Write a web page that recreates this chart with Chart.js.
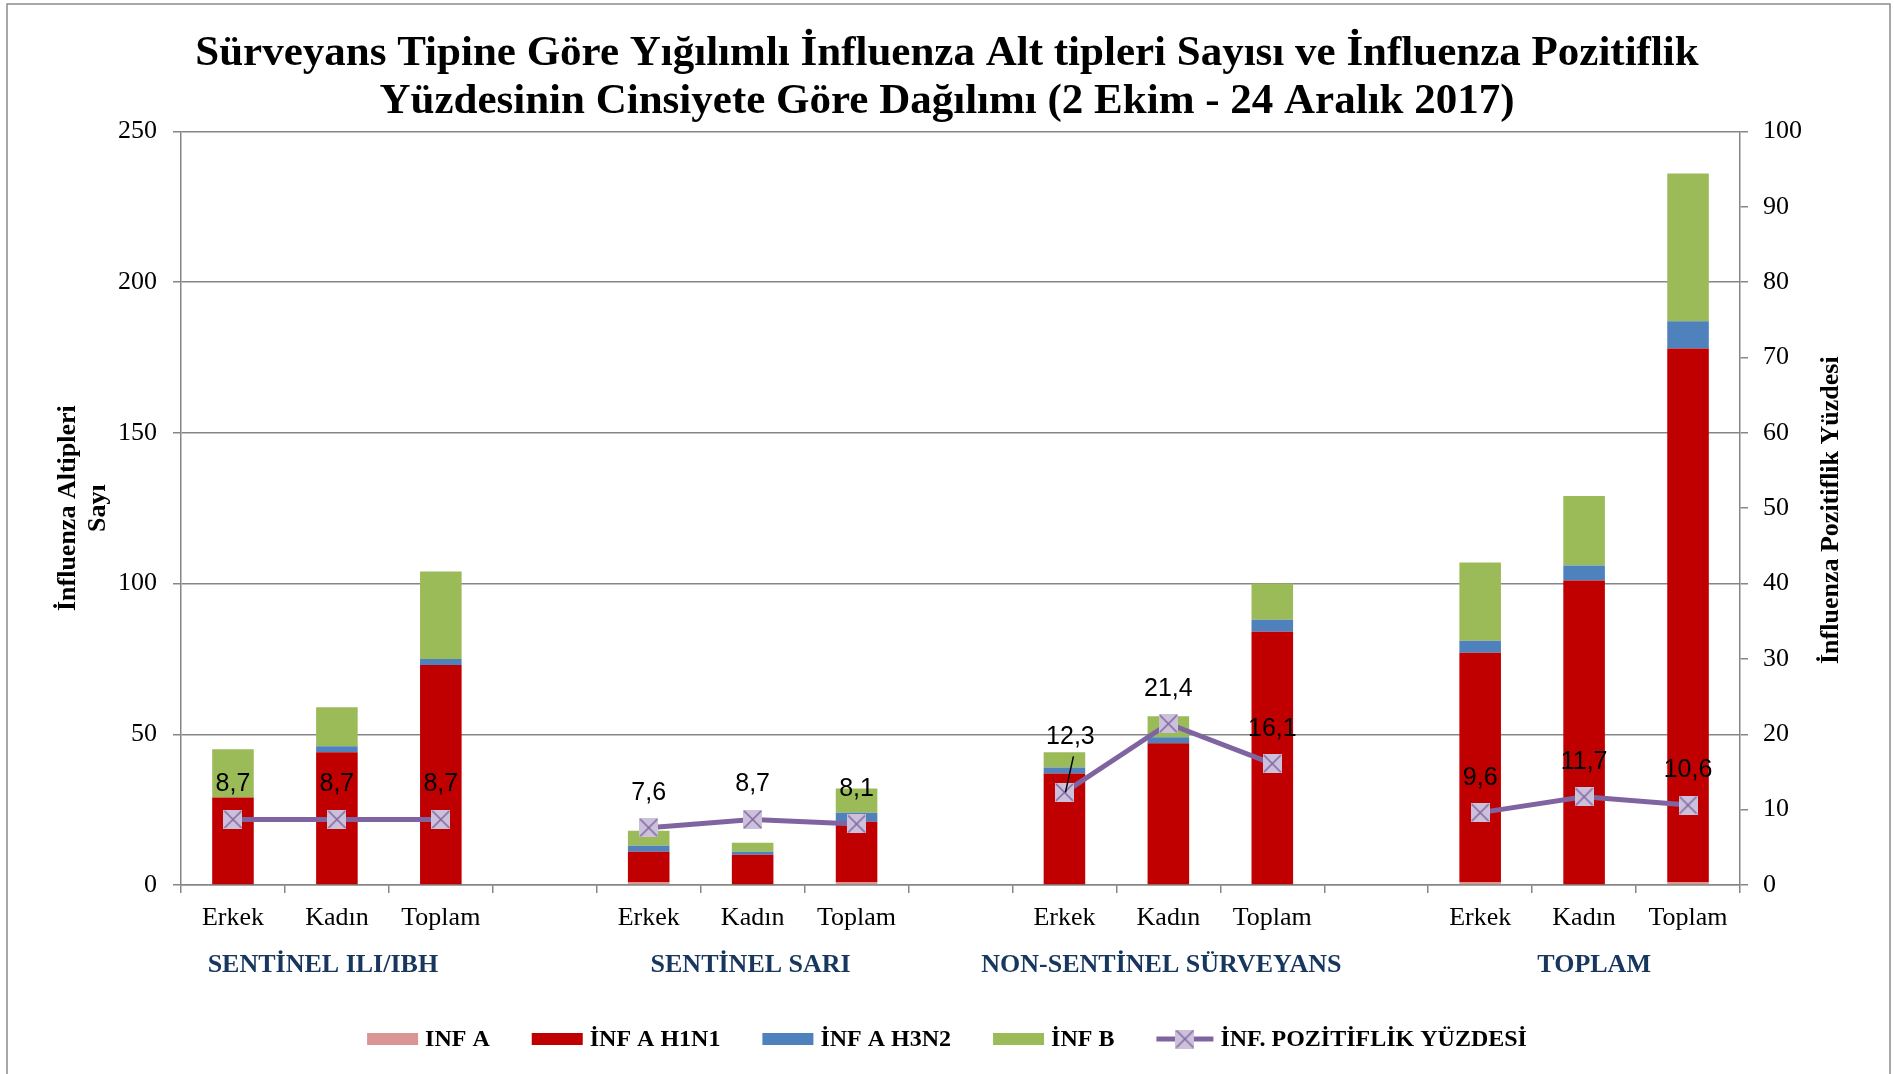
<!DOCTYPE html>
<html>
<head>
<meta charset="utf-8">
<script src="https://cdn.jsdelivr.net/npm/chart.js@4.4.1/dist/chart.umd.min.js"></script>
<style>
  html, body { margin: 0; padding: 0; background: #fff; }
  #wrap { width: 1894px; height: 1074px; }
</style>
</head>
<body>
<div id="wrap"><canvas id="canvas"></canvas></div>
<script>
// categories on the x axis (empty slots separate the groups)
var categories = ['Erkek', 'Kadın', 'Toplam', '', 'Erkek', 'Kadın', 'Toplam', '',
  'Erkek', 'Kadın', 'Toplam', '', 'Erkek', 'Kadın', 'Toplam'];
var groupNames = ['SENTİNEL ILI/IBH', 'SENTİNEL SARI', 'NON-SENTİNEL SÜRVEYANS', 'TOPLAM'];
var groupMiddle = [1, 5, 9, 13]; // category index under which each group name sits

// counts (left axis)
var infA = [0, 0, 0, null, 1, 0, 1, null, 0, 0, 0, null, 1, 0, 1];
var infH1N1 = [29, 44, 73, null, 10, 10, 20, null, 37, 47, 84, null, 76, 101, 177];
var infH3N2 = [0, 2, 2, null, 2, 1, 3, null, 2, 2, 4, null, 4, 5, 9];
var infB = [16, 13, 29, null, 5, 3, 8, null, 5, 7, 12, null, 26, 23, 49];
// positivity % (right axis)
var pozitiflik = [8.7, 8.7, 8.7, null, 7.6, 8.7, 8.1, null, 12.3, 21.4, 16.1, null, 9.6, 11.7, 10.6];

var titleLines = [
  'Sürveyans Tipine Göre Yığılımlı İnfluenza Alt tipleri Sayısı ve İnfluenza Pozitiflik',
  'Yüzdesinin Cinsiyete Göre Dağılımı (2 Ekim - 24 Aralık 2017)'
];

var GRID = '#868686';
var SERIF = '"Liberation Serif", "Times New Roman", serif';

// square marker with an x inside, like the excel one
function makeMarker(w, h) {
  var c = document.createElement('canvas');
  c.width = w; c.height = h;
  var g = c.getContext('2d');
  g.fillStyle = '#ccc1da';
  g.fillRect(0, 0, w, h);
  g.strokeStyle = '#8064a2';
  g.lineWidth = 1.5;
  g.beginPath();
  g.moveTo(1, 1); g.lineTo(w - 1, h - 1);
  g.moveTo(w - 1, 1); g.lineTo(1, h - 1);
  g.stroke();
  return c;
}
var marker = makeMarker(19, 19);

var frame = {
  id: 'frame',
  beforeDraw: function (chart) {
    var c = chart.ctx;
    c.save();
    c.fillStyle = '#fff';
    c.fillRect(0, 0, chart.width, chart.height);
    c.strokeStyle = '#8c8c8c';
    c.lineWidth = 1.5;
    c.beginPath();
    c.moveTo(7, chart.height + 2);
    c.lineTo(7, 4);
    c.lineTo(1890, 4);
    c.lineTo(1890, chart.height + 2);
    c.stroke();
    c.restore();
  }
};

var extras = {
  id: 'extras',
  afterDatasetsDraw: function (chart) {
    var c = chart.ctx;
    var area = chart.chartArea;
    var meta = chart.getDatasetMeta(4);
    c.save();
    // value labels over the line points
    c.font = '25px "Liberation Sans", Arial, sans-serif';
    c.fillStyle = '#000';
    c.textAlign = 'center';
    c.textBaseline = 'middle';
    meta.data.forEach(function (pt, i) {
      var v = pozitiflik[i];
      if (v === null) return;
      var txt = String(v).replace('.', ',');
      if (i === 8) {
        // this one is pushed up with a leader line
        c.fillText(txt, pt.x + 6, pt.y - 55);
        c.strokeStyle = '#000';
        c.lineWidth = 1.5;
        c.beginPath();
        c.moveTo(pt.x + 9, pt.y - 36);
        c.lineTo(pt.x + 1, pt.y);
        c.stroke();
      } else {
        c.fillText(txt, pt.x, pt.y - 35);
      }
    });

    // group names under the categories
    var xs = chart.scales.x;
    var nudge = [-14, -2, -7, 10];
    c.font = 'bold 26px ' + SERIF;
    c.fillStyle = '#17375e';
    groupNames.forEach(function (g, k) {
      c.fillText(g, xs.getPixelForValue(groupMiddle[k]) + nudge[k], 965);
    });

    // axis titles, both read bottom to top
    var cy = (area.top + area.bottom) / 2;
    c.fillStyle = '#000';
    c.font = 'bold 26px ' + SERIF;
    c.textBaseline = 'alphabetic';
    c.save();
    c.translate(75, cy);
    c.rotate(-Math.PI / 2);
    c.fillText('İnfluenza Altipleri', 0, 0);
    c.fillText('Sayı', 0, 30);
    c.restore();
    c.save();
    c.translate(1838, cy + 2);
    c.rotate(-Math.PI / 2);
    c.fillText('İnfluenza Pozitiflik Yüzdesi', 0, 0);
    c.restore();
    c.restore();
  },
  afterDraw: function (chart) {
    // legend along the bottom
    var c = chart.ctx;
    var ds = chart.data.datasets;
    var y = 1039, sw = 51, gap = 7, between = 42;
    c.save();
    c.font = 'bold 24px ' + SERIF;
    c.textBaseline = 'middle';
    c.textAlign = 'left';
    var widths = ds.map(function (d, i) {
      return (i === 4 ? 57 : sw) + gap + c.measureText(d.label).width;
    });
    var total = widths.reduce(function (a, b) { return a + b; }, 0) + between * (ds.length - 1);
    var x = (chart.width - total) / 2;
    ds.forEach(function (d, i) {
      if (i === 4) {
        c.strokeStyle = d.borderColor;
        c.lineWidth = 5;
        c.beginPath();
        c.moveTo(x, y);
        c.lineTo(x + 57, y);
        c.stroke();
        c.drawImage(marker, x + 28.5 - 9.5, y - 9.5);
        c.fillStyle = '#000';
        c.fillText(d.label, x + 57 + gap, y + 1);
      } else {
        c.fillStyle = d.backgroundColor;
        c.fillRect(x, y - 6, sw, 12);
        c.fillStyle = '#000';
        c.fillText(d.label, x + sw + gap, y + 1);
      }
      x += widths[i] + between;
    });
    c.restore();
  }
};

function barSet(label, data, color) {
  return {
    type: 'bar',
    label: label,
    data: data,
    backgroundColor: color,
    borderWidth: 0,
    stack: 'tip',
    yAxisID: 'y',
    order: 1,
    categoryPercentage: 1,
    barPercentage: 0.4
  };
}

new Chart(document.getElementById('canvas'), {
  data: {
    labels: categories,
    datasets: [
      barSet('INF A', infA, '#d99694'),
      barSet('İNF A H1N1', infH1N1, '#c00000'),
      barSet('İNF A H3N2', infH3N2, '#4f81bd'),
      barSet('İNF B', infB, '#9bbb59'),
      {
        type: 'line',
        label: 'İNF. POZİTİFLİK YÜZDESİ',
        data: pozitiflik,
        yAxisID: 'y1',
        order: 0,
        borderColor: '#8064a2',
        backgroundColor: '#ccc1da',
        borderWidth: 5,
        tension: 0,
        spanGaps: false,
        pointStyle: marker,
        pointRadius: 10
      }
    ]
  },
  options: {
    responsive: true,
    maintainAspectRatio: false,
    animation: false,
    devicePixelRatio: 1,
    layout: { padding: { left: 0, right: 0, top: 0, bottom: 89 } },
    plugins: {
      legend: { display: false },
      tooltip: { enabled: false },
      title: {
        display: true,
        text: titleLines,
        color: '#000',
        font: { family: SERIF, size: 43, weight: 'bold', lineHeight: 1.12 },
        padding: { top: 30, bottom: 5 }
      }
    },
    scales: {
      x: {
        stacked: true,
        offset: true,
        grid: { drawOnChartArea: false, drawTicks: true, tickLength: 8, color: GRID, lineWidth: 1.5, offset: true },
        border: { display: true, color: GRID, width: 1.5 },
        ticks: { color: '#000', font: { family: SERIF, size: 26 }, padding: 10, maxRotation: 0, autoSkip: false },
        afterFit: function (s) { s.height = 100; }
      },
      y: {
        stacked: true,
        position: 'left',
        min: 0,
        max: 250,
        ticks: { stepSize: 50, color: '#000', font: { family: SERIF, size: 26 }, padding: 16 },
        grid: { color: GRID, lineWidth: 1.5, tickLength: 8 },
        border: { color: GRID, width: 1.5 },
        afterFit: function (s) { s.width = 181; }
      },
      y1: {
        position: 'right',
        min: 0,
        max: 100,
        ticks: { stepSize: 10, color: '#000', font: { family: SERIF, size: 26 }, padding: 15 },
        grid: { drawOnChartArea: false, color: GRID, lineWidth: 1.5, tickLength: 8 },
        border: { color: GRID, width: 1.5 },
        afterFit: function (s) { s.width = 154; }
      }
    }
  },
  plugins: [frame, extras]
});
</script>
</body>
</html>
